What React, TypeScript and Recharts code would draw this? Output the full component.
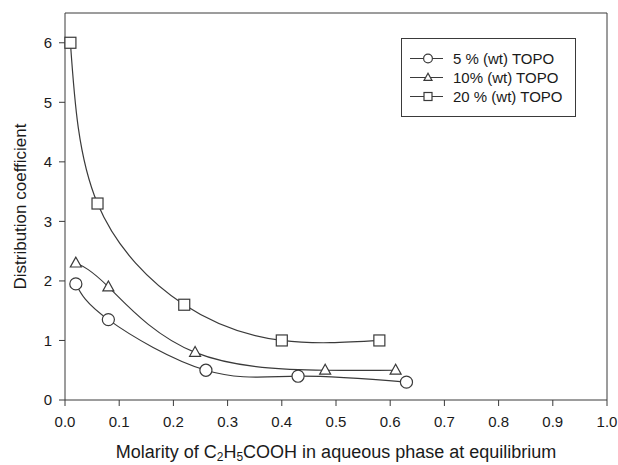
import React from "react";
import {
  LineChart,
  Line,
  XAxis,
  YAxis,
  Legend,
  ReferenceLine,
} from "recharts";

// molarity of propionic acid in aqueous phase (M) vs distribution coefficient
const x5 = [0.02, 0.08, 0.26, 0.43, 0.63];
const y5 = [1.95, 1.35, 0.5, 0.4, 0.3];
const x10 = [0.02, 0.08, 0.24, 0.48, 0.61];
const y10 = [2.3, 1.9, 0.8, 0.5, 0.5];
const x20 = [0.01, 0.06, 0.22, 0.4, 0.58];
const y20 = [6.0, 3.3, 1.6, 1.0, 1.0];

const xTicks = [0, 0.1, 0.2, 0.3, 0.4, 0.5, 0.6, 0.7, 0.8, 0.9, 1.0];
const yTicks = [0, 1, 2, 3, 4, 5, 6];

const seriesNames = ["5 % (wt) TOPO", "10% (wt) TOPO", "20 % (wt) TOPO"];

const toRows = (xs: number[], ys: number[]) => xs.map((x, i) => ({ x, y: ys[i] }));

const FONT = '"Liberation Sans", Arial, sans-serif';
const INK = "#3a3a3a";
const TEXT = "#1a1a1a";

type Shape = "circle" | "triangle" | "square";

function markerEl(shape: Shape, cx: number, cy: number, s: number, key?: string) {
  const common = { fill: "#fff", stroke: INK, strokeWidth: 1.2 };
  if (shape === "circle") return <circle key={key} cx={cx} cy={cy} r={s * 0.55} {...common} />;
  if (shape === "square")
    return <rect key={key} x={cx - s / 2} y={cy - s / 2} width={s} height={s} {...common} />;
  const h = s * 0.9;
  return (
    <polygon
      key={key}
      points={`${cx},${cy - h * 0.6} ${cx - s / 2},${cy + h * 0.4} ${cx + s / 2},${cy + h * 0.4}`}
      {...common}
    />
  );
}

const dotFor = (shape: Shape) => (props: any) =>
  markerEl(shape, props.cx, props.cy, 11, `${shape}-${props.index}`);

const shapes: Shape[] = ["circle", "triangle", "square"];

function LegendBox() {
  return (
    <div
      style={{
        width: 175,
        height: 79,
        border: `1px solid ${INK}`,
        background: "#fff",
        boxSizing: "border-box",
        paddingTop: 10,
        fontFamily: FONT,
        fontSize: 15,
        color: TEXT,
        textAlign: "left",
      }}
    >
      {seriesNames.map((name, i) => (
        <div key={name} style={{ display: "flex", alignItems: "center", height: 19 }}>
          <svg width={38} height={19} style={{ marginLeft: 7 }}>
            <line x1={1} y1={9.5} x2={34} y2={9.5} stroke={INK} strokeWidth={1.2} />
            {markerEl(shapes[i], 19, 9.5, 8)}
          </svg>
          <span style={{ marginLeft: 6 }}>{name}</span>
        </div>
      ))}
    </div>
  );
}

function XTitle(props: any) {
  const { viewBox } = props;
  const cx = viewBox.x + viewBox.width / 2;
  return (
    <text x={cx} y={458} textAnchor="middle" fontFamily={FONT} fontSize={18} fill={TEXT}>
      Molarity of C
      <tspan fontSize={12} dy={3}>2</tspan>
      <tspan dy={-3}>H</tspan>
      <tspan fontSize={12} dy={3}>5</tspan>
      <tspan dy={-3}>COOH in aqueous phase at equilibrium</tspan>
    </text>
  );
}

function YTitle(props: any) {
  const { viewBox } = props;
  const cy = viewBox.y + viewBox.height / 2;
  return (
    <text
      x={20}
      y={cy}
      transform={`rotate(-90, 20, ${cy})`}
      textAnchor="middle"
      dominantBaseline="central"
      fontFamily={FONT}
      fontSize={17}
      fill={TEXT}
    >
      Distribution coefficient
    </text>
  );
}

export default function App() {
  const tick = { fill: TEXT, fontSize: 15, fontFamily: FONT };
  return (
    <div style={{ position: "absolute", left: 0, top: 0, background: "#fff" }}>
      <LineChart width={618} height={465} margin={{ top: 13, right: 11, bottom: 0, left: 0 }}>
        <XAxis
          type="number"
          dataKey="x"
          domain={[0, 1]}
          ticks={xTicks}
          tickFormatter={(v: number) => v.toFixed(1)}
          tick={tick}
          fontSize={15}
          tickSize={6}
          tickMargin={10}
          height={65}
          stroke={INK}
          label={<XTitle />}
          allowDuplicatedCategory={false}
        />
        <YAxis
          type="number"
          dataKey="y"
          domain={[0, 6.5]}
          ticks={yTicks}
          tick={tick}
          fontSize={15}
          tickSize={6}
          tickMargin={7}
          width={65}
          stroke={INK}
          label={<YTitle />}
        />
        <ReferenceLine y={6.5} stroke={INK} />
        <ReferenceLine x={1} stroke={INK} />
        <Legend
          content={<LegendBox />}
          layout="horizontal"
          verticalAlign="middle"
          align="center"
          wrapperStyle={{ position: "absolute", left: 401, top: 38, width: 175, height: 79 }}
        />
        <Line
          data={toRows(x5, y5)}
          dataKey="y"
          name={seriesNames[0]}
          type="natural"
          stroke={INK}
          strokeWidth={1.2}
          dot={dotFor("circle")}
          isAnimationActive={false}
        />
        <Line
          data={toRows(x10, y10)}
          dataKey="y"
          name={seriesNames[1]}
          type="natural"
          stroke={INK}
          strokeWidth={1.2}
          dot={dotFor("triangle")}
          isAnimationActive={false}
        />
        <Line
          data={toRows(x20, y20)}
          dataKey="y"
          name={seriesNames[2]}
          type="natural"
          stroke={INK}
          strokeWidth={1.2}
          dot={dotFor("square")}
          isAnimationActive={false}
        />
      </LineChart>
    </div>
  );
}
